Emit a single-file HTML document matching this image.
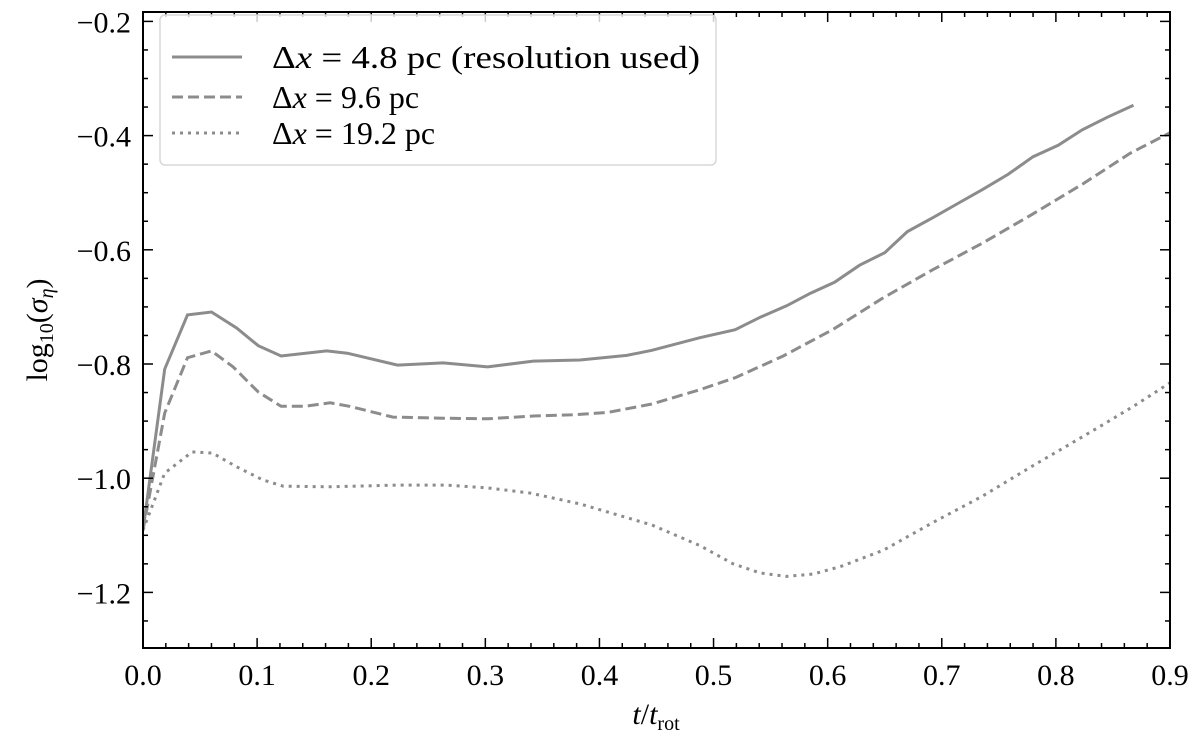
<!DOCTYPE html>
<html><head><meta charset="utf-8">
<style>
html,body{margin:0;padding:0;background:#fff;}
svg{display:block;font-family:"Liberation Serif",serif;}
</style></head>
<body>
<svg id="chart" width="1200" height="741" viewBox="0 0 1200 741" xmlns="http://www.w3.org/2000/svg"></svg>
<script>
const tSolid = [0,0.019,0.039,0.060,0.082,0.101,0.121,0.161,0.179,0.223,0.263,0.302,0.342,0.383,0.424,0.446,0.488,0.519,0.541,0.564,0.585,0.606,0.628,0.650,0.670,0.692,0.714,0.736,0.758,0.780,0.802,0.823,0.845,0.868];
const vSolid = [-1.091,-0.809,-0.714,-0.709,-0.737,-0.768,-0.786,-0.777,-0.781,-0.802,-0.798,-0.805,-0.795,-0.793,-0.785,-0.776,-0.754,-0.740,-0.718,-0.698,-0.676,-0.657,-0.627,-0.605,-0.568,-0.544,-0.519,-0.494,-0.468,-0.437,-0.417,-0.390,-0.368,-0.347];
const tDashed = [0,0.019,0.039,0.060,0.079,0.101,0.121,0.142,0.164,0.181,0.219,0.263,0.302,0.342,0.377,0.407,0.446,0.488,0.519,0.561,0.605,0.648,0.692,0.736,0.780,0.824,0.865,0.900];
const vDashed = [-1.091,-0.886,-0.789,-0.777,-0.805,-0.849,-0.874,-0.874,-0.868,-0.874,-0.893,-0.895,-0.896,-0.891,-0.889,-0.885,-0.870,-0.845,-0.824,-0.786,-0.739,-0.685,-0.635,-0.588,-0.537,-0.484,-0.431,-0.395];
const tDotted = [0,0.019,0.043,0.061,0.082,0.105,0.123,0.164,0.223,0.266,0.302,0.339,0.383,0.412,0.446,0.488,0.517,0.541,0.564,0.587,0.611,0.649,0.692,0.736,0.780,0.810,0.839,0.868,0.900];
const vDotted = [-1.091,-0.991,-0.954,-0.956,-0.980,-1.003,-1.014,-1.015,-1.012,-1.012,-1.017,-1.026,-1.045,-1.062,-1.082,-1.118,-1.150,-1.166,-1.172,-1.168,-1.155,-1.126,-1.078,-1.031,-0.978,-0.943,-0.909,-0.874,-0.833];
const xTicks = [0,0.1,0.2,0.3,0.4,0.5,0.6,0.7,0.8,0.9];
const xTickLabels = ["0.0","0.1","0.2","0.3","0.4","0.5","0.6","0.7","0.8","0.9"];
const yTicks = [-1.2,-1.0,-0.8,-0.6,-0.4,-0.2];
const yTickLabels = ["\u22121.2","\u22121.0","\u22120.8","\u22120.6","\u22120.4","\u22120.2"];

const L=143,R=1170,T=12,B=648;
const sx=t=>L+(t-0)/(0.9)*(R-L);
const sy=v=>364+(-0.8-v)*571;
const svg=document.getElementById('chart');
const NS='http://www.w3.org/2000/svg';
function mk(tag,attrs,parent){const e=document.createElementNS(NS,tag);for(const k in attrs)e.setAttribute(k,attrs[k]);(parent||svg).appendChild(e);return e;}

const clip=mk('clipPath',{id:'pc'});mk('rect',{x:L,y:T,width:R-L,height:B-T},clip);

function series(ts,vs,dash,name){
  const d=ts.map((t,i)=>(i?'L':'M')+sx(t).toFixed(1)+','+sy(vs[i]).toFixed(1)).join(' ');
  const p=mk('path',{d:d,fill:'none',stroke:'#8c8c8c','stroke-width':3,'clip-path':'url(#pc)'});
  if(dash)p.setAttribute('stroke-dasharray',dash);
  
  
}
series(tSolid,vSolid,null,'series-4-8pc');
series(tDashed,vDashed,'11,5','series-9-6pc');
series(tDotted,vDotted,'3,5','series-19-2pc');

const tg=mk('g',{stroke:'#000','stroke-width':1.5});

for(let i=0;i<=45;i++){const t=i*0.02;const x=sx(t);const len=(i%5===0)?10:5;
  mk('line',{x1:x,y1:B,x2:x,y2:B-len},tg);mk('line',{x1:x,y1:T,x2:x,y2:T+len},tg);}
for(let i=0;i<=22;i++){const v=-1.3+i*0.05;const y=sy(v);if(y<T-0.5||y>B+0.5)continue;
  const major=Math.abs(Math.round(v*10)%2)===0&&Math.abs(v*10-Math.round(v*10))<1e-6;const len=major?10:5;
  mk('line',{x1:L,y1:y,x2:L+len,y2:y},tg);mk('line',{x1:R,y1:y,x2:R-len,y2:y},tg);}
const fr=mk('rect',{x:L,y:T,width:R-L,height:B-T,fill:'none',stroke:'#000','stroke-width':2});


xTicks.forEach((t,i)=>{const e=mk('text',{x:sx(t),y:B+37,'text-anchor':'middle','font-size':30});e.textContent=xTickLabels[i];
  });
yTicks.forEach((v,i)=>{const e=mk('text',{x:L-12,y:sy(v)+11,'text-anchor':'end','font-size':30});e.textContent=yTickLabels[i];
  });
</script>
<svg style="position:absolute;left:0;top:0" width="1200" height="741" xmlns="http://www.w3.org/2000/svg">
  <text x="656" y="724" text-anchor="middle" font-family="Liberation Serif, serif" font-size="30"><tspan font-style="italic">t</tspan>/<tspan font-style="italic">t</tspan><tspan font-size="20" dy="6">rot</tspan></text>
  <text transform="translate(47,330) rotate(-90)" text-anchor="middle" font-family="Liberation Serif, serif" font-size="30">log<tspan font-size="20" dy="6">10</tspan><tspan dy="-6">(</tspan><tspan font-style="italic">σ</tspan><tspan font-size="20" font-style="italic" dy="6">η</tspan><tspan dy="-6">)</tspan></text>
  <g font-family="Liberation Serif, serif" font-size="32">
    <rect x="160" y="15" width="556" height="150" rx="5" fill="#fff" fill-opacity="0.8" stroke="#d8d8d8" stroke-width="1.5"/>
    <line x1="172" y1="57" x2="242" y2="57" stroke="#8c8c8c" stroke-width="3"/>
    <text x="272" y="68" textLength="428" lengthAdjust="spacingAndGlyphs">Δ<tspan font-style="italic">x</tspan> = 4.8 pc (resolution used)</text>
    <line x1="172" y1="97" x2="242" y2="97" stroke="#8c8c8c" stroke-width="3" stroke-dasharray="11,5"/>
    <text x="272" y="108">Δ<tspan font-style="italic">x</tspan> = 9.6 pc</text>
    <line x1="172" y1="133" x2="242" y2="133" stroke="#8c8c8c" stroke-width="3" stroke-dasharray="3,5"/>
    <text x="272" y="144">Δ<tspan font-style="italic">x</tspan> = 19.2 pc</text>
  </g>
</svg>
</body></html>
